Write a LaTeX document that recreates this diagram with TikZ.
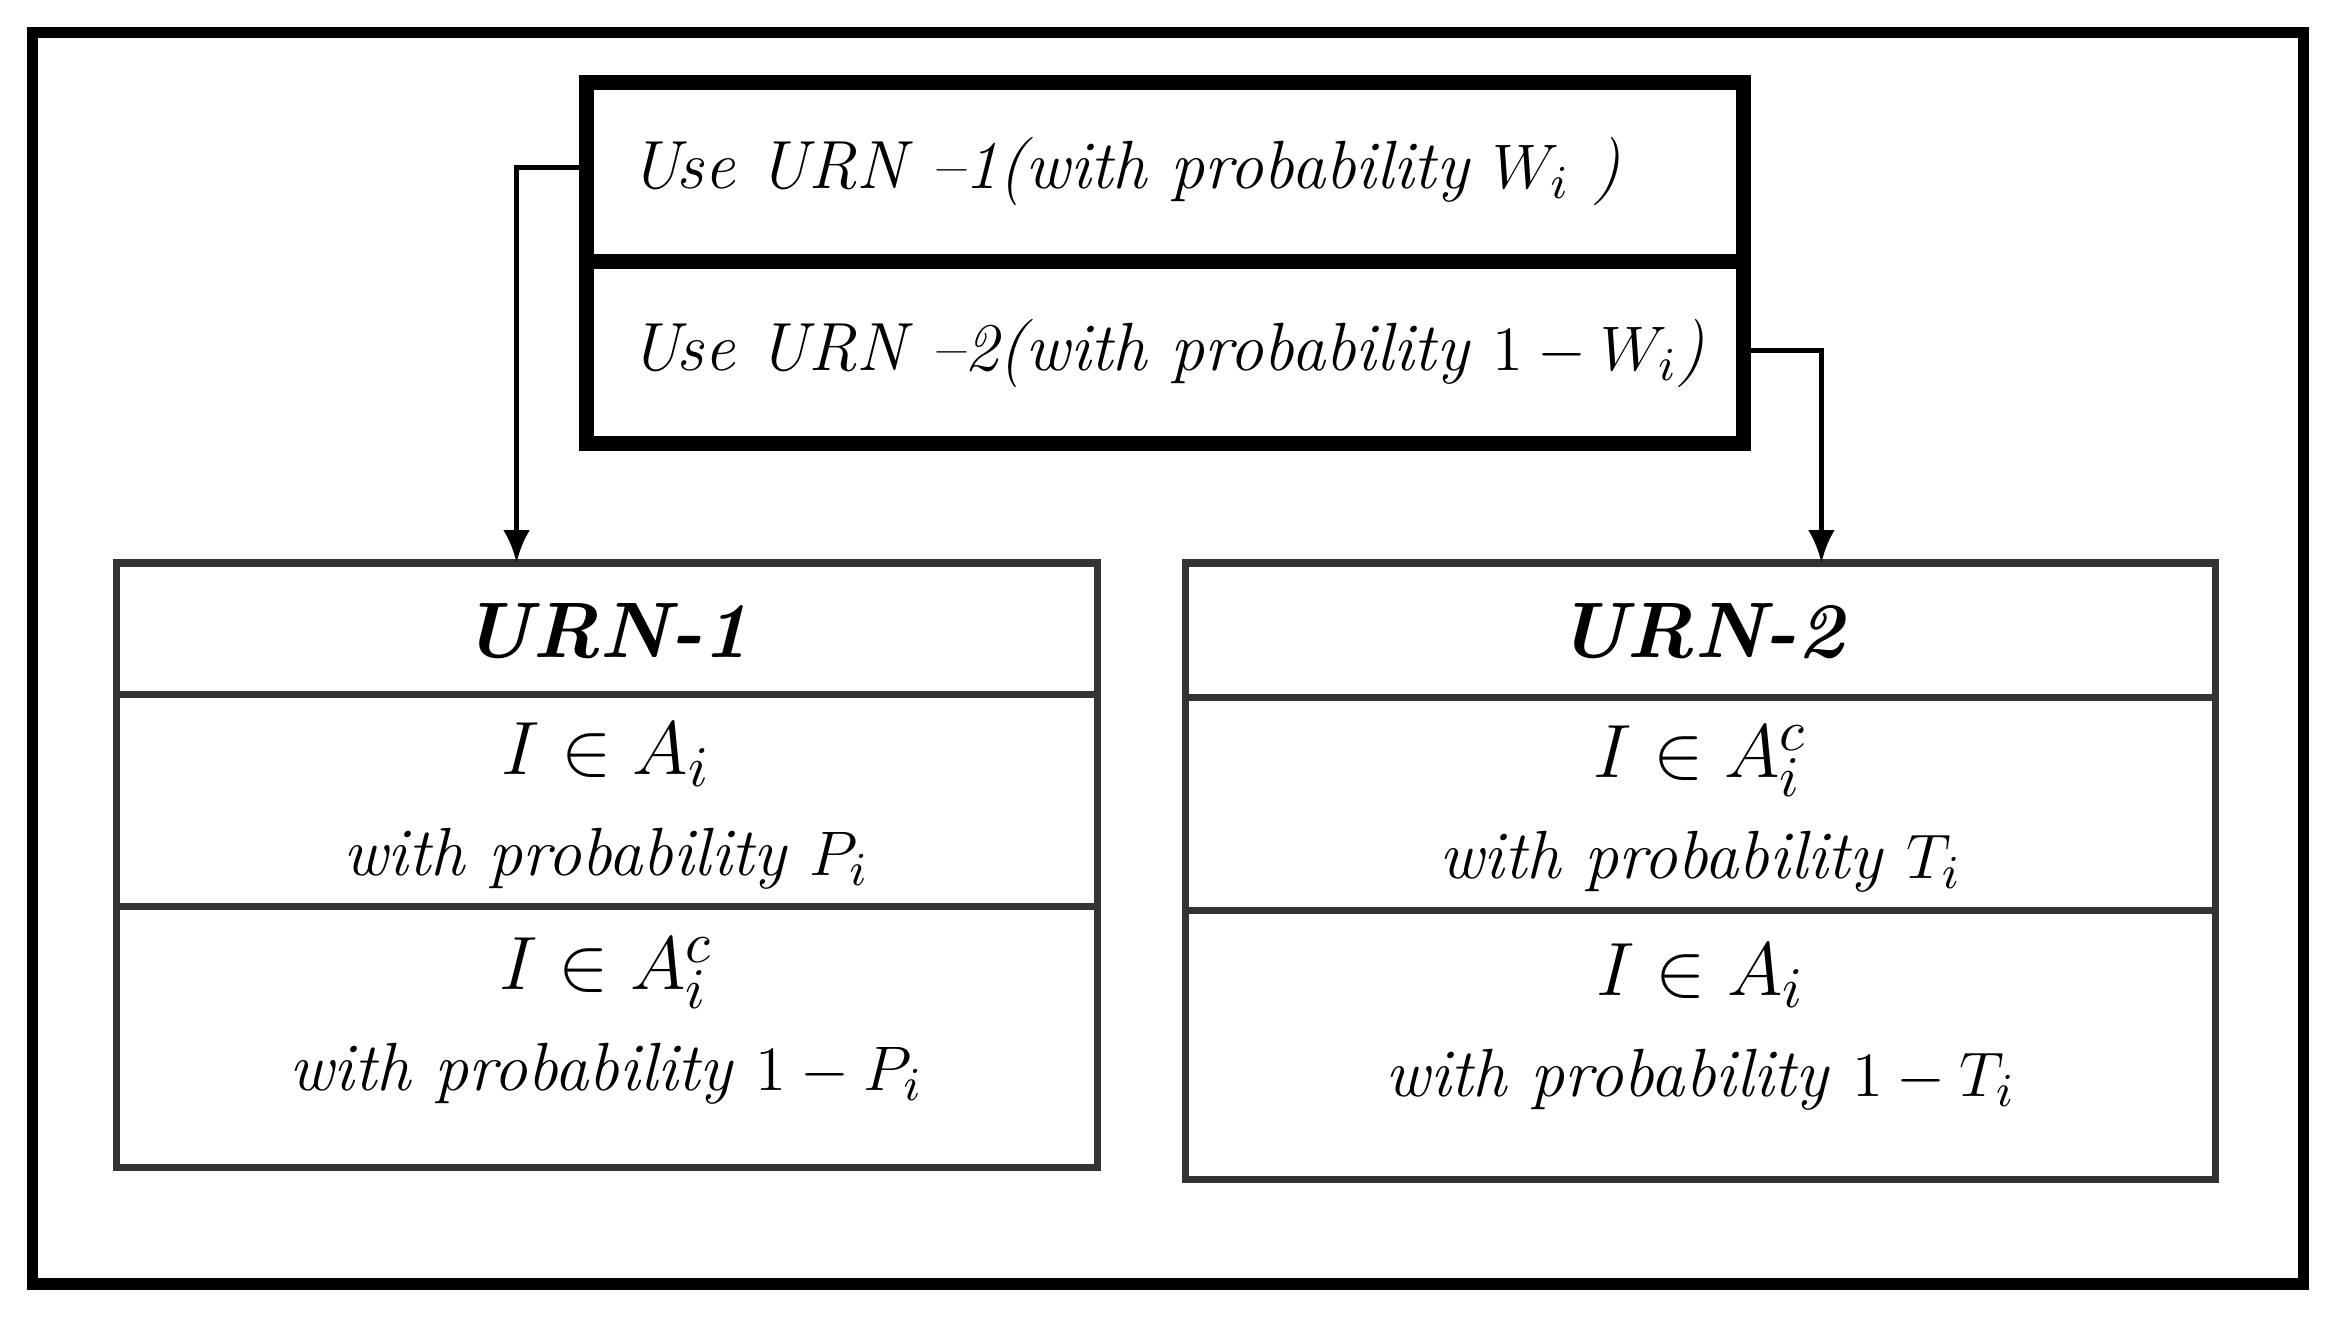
\documentclass[tikz,border=0pt]{standalone}
\usetikzlibrary{arrows.meta}
\begin{document}
\begin{tikzpicture}[x=0.1mm,y=-0.1mm,
  thk/.style={line width=1.0mm},
  thn/.style={line width=0.5mm,draw=black!80},
  txt/.style={font=\fontsize{13}{15}\selectfont\itshape},
  arr/.style={line width=0.35mm,-{Latex[length=2.2mm,width=1.8mm]}}]
\useasboundingbox (0,0) rectangle (1568,887);
\draw[line width=0.75mm] (22,22) rectangle (1543,860);
% top box
\draw[thk] (393,55) rectangle (1168,297);
\draw[thk] (393,175) -- (1168,175);
\node[txt,anchor=west] (u1) at (410,115) {Use URN --1(with probability $W_i$ )};
\node[txt,anchor=west] (u2) at (410,237) {Use URN --2(with probability $1-W_i$)};
\coordinate (l1) at (393,112);
\coordinate (r1) at (1168,235);
% urn boxes
\draw[thn] (78,377) rectangle (735,782);
\draw[thn] (78,465) -- (735,465);
\draw[thn] (78,607) -- (735,607);
\draw[thn] (794,377) rectangle (1484,790);
\draw[thn] (794,467) -- (1484,467);
\draw[thn] (794,610) -- (1484,610);
\coordinate (t1) at (346,377);
\coordinate (t2) at (1220,377);
\draw[arr] (l1) -| (t1);
\draw[arr] (r1) -| (t2);
\node[font=\fontsize{15}{17}\selectfont\bfseries\itshape] (h1) at (406,423) {URN-1};
\node[font=\fontsize{15}{17}\selectfont\bfseries\itshape] (h2) at (1139,423) {URN-2};
\node[txt,align=center] (a1) at (406,540) {\fontsize{15}{17}\selectfont$I\in A_i$\\[1.5mm] with probability $P_i$};
\node[txt,align=center] (a2) at (406,684) {\fontsize{15}{17}\selectfont$I\in A_i^c$\\[1.5mm] with probability $1-P_i$};
\node[txt,align=center] (b1) at (1139,542) {\fontsize{15}{17}\selectfont$I\in A_i^c$\\[1.5mm] with probability $T_i$};
\node[txt,align=center] (b2) at (1139,688) {\fontsize{15}{17}\selectfont$I\in A_i$\\[1.5mm] with probability $1-T_i$};
\end{tikzpicture}
\end{document}
